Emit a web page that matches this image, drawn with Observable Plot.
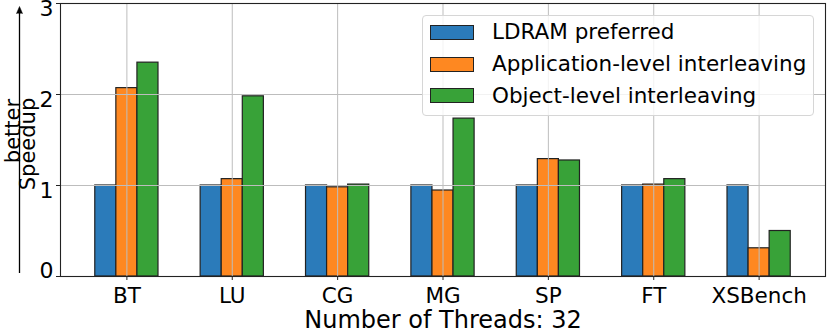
<!DOCTYPE html>
<html>
<head>
<meta charset="utf-8">
<script src="https://cdn.jsdelivr.net/npm/d3@7"></script>
<script src="https://cdn.jsdelivr.net/npm/@observablehq/plot@0.6"></script>
<style>
  body { margin: 0; background: #fff; }
  #wrap { position: relative; width: 831px; height: 332px; font-family: "DejaVu Sans", sans-serif; }
  #wrap svg { display: block; }
  .legend { position: absolute; left: 422px; top: 15px; width: 392px; height: 101px; box-sizing: border-box;
            border: 1px solid #d6d6d6; border-radius: 4px; background: rgba(255,255,255,0.8); }
  .row { position: absolute; left: 0; height: 32px; width: 100%; }
  .sw { position: absolute; left: 7px; top: 8.5px; width: 44px; height: 15px; box-sizing: border-box; border: 1.2px solid #222; }
  .lab { position: absolute; left: 69px; top: 0; line-height: 32px; font-size: 21.5px; white-space: nowrap; color: #000; }
</style>
</head>
<body>
<div id="wrap"></div>
<script>
// ---- data ----
const categories = ["BT", "LU", "CG", "MG", "SP", "FT", "XSBench"];
const series = ["LDRAM preferred", "Application-level interleaving", "Object-level interleaving"];
const colors = ["#2b7bba", "#fe8821", "#38a238"];
const ldramPreferred = [1, 1, 1, 1, 1, 1, 1];
const appInterleave = [2.07, 1.07, 0.98, 0.945, 1.29, 1.01, 0.31];
const objInterleave = [2.35, 1.98, 1.01, 1.735, 1.275, 1.07, 0.50];
const yTicks = [0, 1, 2, 3];
const xLabel = "Number of Threads: 32";
const yLabel = "Speedup";
const betterLabel = "better";

const seriesValues = [ldramPreferred, appInterleave, objInterleave];
const rows = categories.flatMap((c, i) => seriesValues.map((vals, j) => ({i, j, cat: c, s: series[j], v: vals[i]})));

const barW = 0.2;
const xDomain = [-0.63, categories.length - 1 + 0.63];
const idx = d3.range(categories.length);
const arrowData = [{x: xDomain[0], y1: 0.033, y2: 2.89}];

const chart = Plot.plot({
  width: 831,
  height: 332,
  marginLeft: 60,
  marginRight: 6,
  marginTop: 3,
  marginBottom: 56,
  style: {fontFamily: "DejaVu Sans", fontSize: "21.5px", overflow: "visible", background: "white", color: "#000"},
  x: {domain: xDomain, axis: null},
  y: {domain: [0, 3], axis: null},
  color: {domain: series, range: colors},
  marks: [
    Plot.rectY(rows, {
      x1: d => d.i + (d.j - 1.5) * barW,
      x2: d => d.i + (d.j - 0.5) * barW,
      y1: 0,
      y2: "v",
      fill: "s",
      stroke: "#222",
      strokeWidth: 1.2
    }),
    Plot.gridX(idx, {stroke: "#bdbdbd", strokeOpacity: 1, strokeWidth: 1}),
    Plot.gridY(yTicks, {stroke: "#bdbdbd", strokeOpacity: 1, strokeWidth: 1}),
    Plot.frame({stroke: "#222", strokeWidth: 1.1}),
    Plot.axisX(idx, {tickSize: 4, tickPadding: 7, tickFormat: i => categories[i], label: null, fontSize: 21.5, stroke: "#222"}),
    Plot.axisY(yTicks, {tickSize: 4, text: null, label: null, stroke: "#222"}),
    Plot.axisY(yTicks.filter(t => t > 0), {tickSize: 0, tickPadding: 7, dy: 5, label: null, fontSize: 22, tickFormat: d3.format("d")}),
    Plot.axisY(yTicks.filter(t => t === 0), {tickSize: 0, tickPadding: 7, dy: -6, label: null, fontSize: 22, tickFormat: d3.format("d")}),
    Plot.text([xLabel], {frameAnchor: "bottom", lineAnchor: "middle", dy: 44, fontSize: 24}),
    Plot.text([yLabel], {frameAnchor: "left", textAnchor: "middle", lineAnchor: "middle", rotate: -90, dx: -32.7, dy: 4, fontSize: 21}),
    Plot.text([betterLabel], {frameAnchor: "left", textAnchor: "middle", lineAnchor: "middle", rotate: -90, dx: -47.7, dy: -9, fontSize: 21}),
    Plot.ruleX(arrowData, {x: "x", y1: "y1", y2: "y2", dx: -41, stroke: "#000", strokeWidth: 1.3}),
    Plot.vector(arrowData, {x: "x", y: "y2", length: 7, r: 3, shape: "spike", anchor: "start", fill: "#000", stroke: "#000", strokeWidth: 0.5, dx: -41})
  ]
});

const wrap = document.getElementById("wrap");
wrap.appendChild(chart);

// legend (inside plot, upper right)
const legend = document.createElement("div");
legend.className = "legend";
const rowCenters = [17.3, 49, 80.7];
series.forEach((s, j) => {
  const r = document.createElement("div");
  r.className = "row";
  r.style.top = (rowCenters[j] - 16 - 1) + "px";
  const sw = document.createElement("div");
  sw.className = "sw";
  sw.style.background = colors[j];
  const lab = document.createElement("div");
  lab.className = "lab";
  lab.textContent = s;
  r.appendChild(sw);
  r.appendChild(lab);
  legend.appendChild(r);
});
wrap.appendChild(legend);
</script>
</body>
</html>
